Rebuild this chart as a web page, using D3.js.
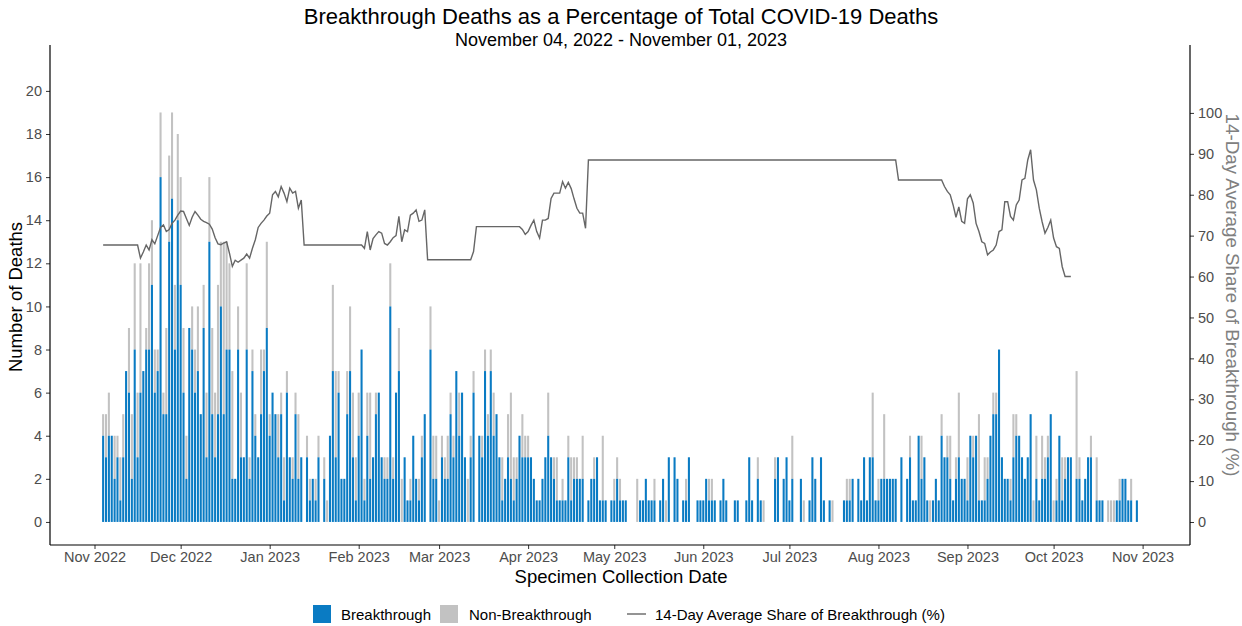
<!DOCTYPE html>
<html><head><meta charset="utf-8">
<script src="https://cdn.jsdelivr.net/npm/d3@7"></script>
<style>
body{margin:0;background:#fff;}
svg{display:block;font-family:"Liberation Sans",Arial,Helvetica,sans-serif;}
</style>
</head><body><svg id="c" width="1242" height="626"></svg>
<script>
// ---------------- DATA ----------------
const startDate = [2022, 10, 4]; // Nov 4, 2022 (UTC y, m0, d)

const breakthrough = [
4,3,4,4,2,3,1,3,7,6,
2,8,3,6,7,8,8,11,6,7,
16,5,5,13,15,8,14,11,6,2,
9,8,6,7,5,9,3,13,5,3,
5,10,5,8,8,2,2,8,3,3,
8,2,7,4,3,5,7,9,4,6,
5,3,5,1,6,3,2,5,2,3,
0,3,1,2,1,3,0,2,0,4,
7,3,6,2,2,5,7,3,1,4,
8,1,4,2,3,5,6,3,2,2,
10,2,6,7,0,3,1,1,4,2,
1,3,5,0,8,2,2,0,3,2,
2,5,3,7,4,6,3,0,3,6,
0,4,3,7,4,7,4,5,3,1,
2,3,2,1,2,4,3,3,3,3,
2,1,1,2,3,4,3,2,1,1,
1,1,3,1,2,2,2,2,0,1,
2,2,3,1,1,1,0,1,1,2,
1,1,1,0,0,0,0,1,1,2,
1,1,1,0,1,2,0,3,0,3,
2,0,1,1,3,0,0,1,1,1,
2,1,1,1,0,1,2,1,0,0,
1,1,0,0,1,3,1,0,2,1,
0,0,0,0,2,3,0,2,3,1,
2,0,0,2,0,0,1,3,2,0,
3,1,0,1,0,0,0,0,1,1,
1,2,0,2,1,3,1,3,3,1,
1,2,2,2,2,2,2,0,3,0,
2,3,1,1,4,2,3,1,0,1,
2,1,4,3,3,2,1,2,3,2,
2,1,4,3,4,1,1,1,2,4,
5,5,8,3,2,2,1,3,4,4,
3,2,3,5,0,2,1,2,2,3,
5,0,1,4,1,2,3,3,0,2,
2,1,2,3,3,0,1,1,1,0,
0,0,0,1,1,2,2,1,1,0,
1
];

const nonBreakthrough = [
1,2,2,0,2,1,2,2,0,3,
3,4,3,6,0,1,4,3,2,1,
3,1,4,4,4,3,4,5,3,2,
0,2,2,3,0,2,3,3,4,3,
6,3,8,5,4,5,0,2,3,0,
4,1,1,1,0,3,1,4,1,0,
0,2,1,2,1,0,1,1,3,0,
0,1,1,0,1,1,0,1,1,0,
4,4,1,0,0,2,3,3,2,2,
0,1,2,4,0,1,0,0,1,1,
2,1,0,2,2,0,0,1,0,0,
1,1,0,0,2,2,2,1,1,1,
2,1,1,0,2,0,0,2,1,1,
0,0,1,1,1,1,2,0,0,2,
0,2,4,2,1,0,2,1,1,0,
0,0,0,0,0,2,0,1,2,0,
1,0,1,2,1,1,0,2,0,0,
0,1,0,0,3,0,0,0,1,1,
1,0,0,0,0,0,2,0,0,0,
0,0,1,0,0,0,1,0,0,0,
0,0,0,1,0,0,0,0,0,0,
0,1,1,0,0,0,0,0,0,0,
0,0,0,0,0,0,0,0,1,0,
1,0,0,0,1,0,0,0,0,0,
2,0,0,0,1,0,0,0,0,0,
0,0,0,0,1,0,0,0,0,1,
1,0,0,0,0,0,0,0,3,0,
1,0,3,0,0,0,0,0,0,0,
0,1,0,0,0,2,0,0,1,0,
0,0,1,0,1,2,0,1,3,0,
0,2,0,1,0,4,0,2,1,0,
1,1,0,0,0,0,1,2,1,0,
0,0,0,0,1,2,0,2,1,1,
0,1,1,0,2,1,0,0,0,5,
1,0,0,0,1,0,2,0,0,0,
1,1,1,0,1,0,0,0,1,0,
0
];

// 14-day average share of breakthrough (%), one value per day from Nov 4, 2022
const shareBreakthrough = [
67.7,67.7,67.7,67.7,67.7,67.7,67.7,67.7,67.7,67.7,
67.7,67.7,67.7,64.5,66,67.7,66.5,69,68,70,
72,72.6,71,71.5,73,73.8,75,76,75.9,74.2,
72.5,74.5,75.9,75,74,73.5,73.2,72.8,71.6,69.5,
68,67.8,68.2,68.5,65.7,62.5,64,63.5,64,64.5,
65.5,64.5,66.9,69,72,73,73.8,74.8,75.5,80,
80.8,79.5,82,80.4,78.3,81.6,80.4,80.8,76.7,78.7,
67.7,67.7,67.7,67.7,67.7,67.7,67.7,67.7,67.7,67.7,
67.7,67.7,67.7,67.7,67.7,67.7,67.7,67.7,67.7,67.7,
67.7,66.9,71,66.5,69.3,70.2,71,70.6,68.1,67.7,
68.5,69.5,70,74.7,68.5,71.4,71,75,75.5,76.3,
73.5,73.8,76.3,64.1,64.1,64.1,64.1,64.1,64.1,64.1,
64.1,64.1,64.1,64.1,64.1,64.1,64.1,64.1,64.1,66.1,
72.2,72.2,72.2,72.2,72.2,72.2,72.2,72.2,72.2,72.2,
72.2,72.2,72.2,72.2,72.2,72.2,71.5,70.3,71,72.5,
73.8,71,69.4,73.8,73.8,74.2,79.1,80.4,80.4,80.4,
83.2,81.6,83,81.5,79,76.7,75.5,75.5,71.8,88.5,
88.5,88.5,88.5,88.5,88.5,88.5,88.5,88.5,88.5,88.5,
88.5,88.5,88.5,88.5,88.5,88.5,88.5,88.5,88.5,88.5,
88.5,88.5,88.5,88.5,88.5,88.5,88.5,88.5,88.5,88.5,
88.5,88.5,88.5,88.5,88.5,88.5,88.5,88.5,88.5,88.5,
88.5,88.5,88.5,88.5,88.5,88.5,88.5,88.5,88.5,88.5,
88.5,88.5,88.5,88.5,88.5,88.5,88.5,88.5,88.5,88.5,
88.5,88.5,88.5,88.5,88.5,88.5,88.5,88.5,88.5,88.5,
88.5,88.5,88.5,88.5,88.5,88.5,88.5,88.5,88.5,88.5,
88.5,88.5,88.5,88.5,88.5,88.5,88.5,88.5,88.5,88.5,
88.5,88.5,88.5,88.5,88.5,88.5,88.5,88.5,88.5,88.5,
88.5,88.5,88.5,88.5,88.5,88.5,88.5,83.6,83.6,83.6,
83.6,83.6,83.6,83.6,83.6,83.6,83.6,83.6,83.6,83.6,
83.6,83.6,83.6,82,80.8,80,77.5,74.5,77,73.5,
73,79,80,78,73,71,68.5,68.1,65.3,66,
66.5,67.7,71,71.4,78.3,78.3,74.7,73.8,77.5,78.7,
83.6,84,88.5,91,83.6,81.2,76.7,73.4,70.6,72,
73.8,69.4,67.3,66.9,62.4,60,60,60
];

const leftTicks = [0,2,4,6,8,10,12,14,16,18,20];
const rightTicks = [0,10,20,30,40,50,60,70,80,90,100];
const monthTicks = [[2022,10],[2022,11],[2023,0],[2023,1],[2023,2],[2023,3],[2023,4],[2023,5],[2023,6],[2023,7],[2023,8],[2023,9],[2023,10]];
const monthLabels = ["Nov 2022","Dec 2022","Jan 2023","Feb 2023","Mar 2023","Apr 2023","May 2023","Jun 2023","Jul 2023","Aug 2023","Sep 2023","Oct 2023","Nov 2023"];

const titleText = "Breakthrough Deaths as a Percentage of Total COVID-19 Deaths";
const subtitleText = "November 04, 2022 - November 01, 2023";
const legendLabels = ["Breakthrough","Non-Breakthrough","14-Day Average Share of Breakthrough (%)"];

// ---------------- DRAW ----------------
const DAY = 86400000;
const t0 = Date.UTC(startDate[0], startDate[1], startDate[2]);
const dateOf = i => new Date(t0 + i * DAY);

const colBlue = "#0a7bc3", colGray = "#c2c2c2", colLine = "#666666", colTxt = "#4d4d4d";
const L = 50, R = 1190, T = 45, B = 545;

const svg = d3.select("#c");
svg.append("rect").attr("width",1242).attr("height",626).attr("fill","#fff");

const x = d3.scaleUtc()
  .domain([new Date(Date.UTC(2022,9,16,12)), new Date(Date.UTC(2023,10,17,12))])
  .range([L, R]);
const yL = d3.scaleLinear().domain([-1.07, 22.13]).range([B, T]);
const yR = d3.scaleLinear().domain([-5.62, 116.6]).range([B, T]);

const bw = 0.72 * (x(dateOf(1)) - x(dateOf(0)));

const data = breakthrough.map((b,i) => ({d: dateOf(i), b, n: nonBreakthrough[i]}));

const gBars = svg.append("g");
gBars.selectAll("rect.nb").data(data.filter(d => d.n > 0)).join("rect")
  .attr("class","nb")
  .attr("x", d => x(d.d) - bw/2).attr("width", bw)
  .attr("y", d => yL(d.b + d.n)).attr("height", d => yL(d.b) - yL(d.b + d.n))
  .attr("fill", colGray);
gBars.selectAll("rect.b").data(data.filter(d => d.b > 0)).join("rect")
  .attr("class","b")
  .attr("x", d => x(d.d) - bw/2).attr("width", bw)
  .attr("y", d => yL(d.b)).attr("height", d => yL(0) - yL(d.b))
  .attr("fill", colBlue);

const line = d3.line().x((v,i) => x(dateOf(i))).y(v => yR(v));
svg.append("path").datum(shareBreakthrough).attr("d", line)
  .attr("fill","none").attr("stroke", colLine).attr("stroke-width", 1.4);

// axes
function styleAxis(g){
  g.select(".domain").remove();
  g.selectAll(".tick line").attr("stroke","#333");
  g.selectAll(".tick text").attr("fill", colTxt).style("font-size","14.5px").style("font-family","'Liberation Sans',Arial,sans-serif");
}
svg.append("g").attr("transform",`translate(${L},0)`)
  .call(d3.axisLeft(yL).tickValues(leftTicks).tickSize(4).tickPadding(4))
  .call(styleAxis);
svg.append("g").attr("transform",`translate(${R},0)`)
  .call(d3.axisRight(yR).tickValues(rightTicks).tickSize(4).tickPadding(4))
  .call(styleAxis);
svg.append("g").attr("transform",`translate(0,${B})`)
  .call(d3.axisBottom(x).tickValues(monthTicks.map(m => new Date(Date.UTC(m[0], m[1], 1))))
    .tickFormat((d,i) => monthLabels[i]).tickSize(4).tickPadding(3))
  .call(styleAxis);

// axis lines
svg.append("line").attr("x1",L).attr("x2",L).attr("y1",T).attr("y2",B).attr("stroke","#000").attr("stroke-width",1.2);
svg.append("line").attr("x1",R).attr("x2",R).attr("y1",T).attr("y2",B).attr("stroke","#000").attr("stroke-width",1.2);
svg.append("line").attr("x1",L).attr("x2",R).attr("y1",B).attr("y2",B).attr("stroke","#000").attr("stroke-width",1.2);

// titles
svg.append("text").attr("x",621).attr("y",24).attr("text-anchor","middle")
  .style("font-size","22px").attr("fill","#000").text(titleText);
svg.append("text").attr("x",621).attr("y",46).attr("text-anchor","middle")
  .style("font-size","18px").attr("fill","#000").text(subtitleText);
svg.append("text").attr("x",621).attr("y",583).attr("text-anchor","middle")
  .style("font-size","18.5px").attr("fill","#000").text("Specimen Collection Date");
svg.append("text").attr("transform","translate(22,297) rotate(-90)").attr("text-anchor","middle")
  .style("font-size","18.5px").attr("fill","#000").text("Number of Deaths");
svg.append("text").attr("transform","translate(1226,295) rotate(90)").attr("text-anchor","middle")
  .style("font-size","18.8px").attr("fill","#808080").text("14-Day Average Share of Breakthrough (%)");

// legend
const lg = svg.append("g");
lg.append("rect").attr("x",313).attr("y",605).attr("width",18).attr("height",18).attr("fill",colBlue);
lg.append("text").attr("x",341).attr("y",619.5).style("font-size","15px").attr("fill","#000").text(legendLabels[0]);
lg.append("rect").attr("x",440).attr("y",605).attr("width",18).attr("height",18).attr("fill",colGray);
lg.append("text").attr("x",469).attr("y",619.5).style("font-size","15px").attr("fill","#000").text(legendLabels[1]);
lg.append("line").attr("x1",627).attr("x2",646).attr("y1",614).attr("y2",614).attr("stroke",colLine).attr("stroke-width",1.4);
lg.append("text").attr("x",655).attr("y",619.5).style("font-size","15px").attr("fill","#000").text(legendLabels[2]);
</script>
</body></html>
